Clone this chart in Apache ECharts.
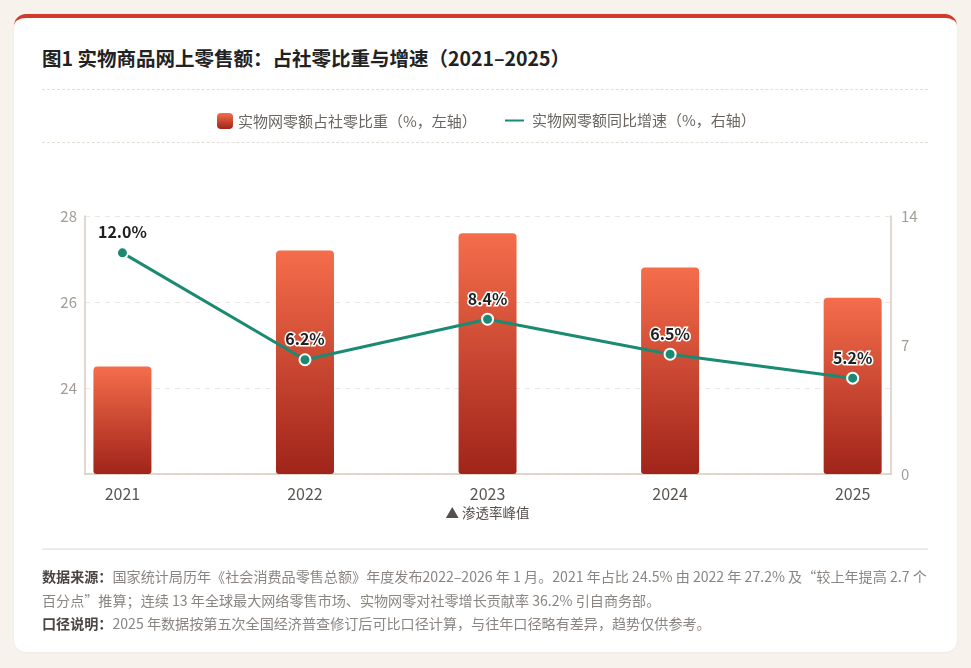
<!DOCTYPE html>
<html>
<head>
<meta charset="utf-8">
<script src="https://cdn.jsdelivr.net/npm/echarts@6/dist/echarts.min.js"></script>
<style>
  html, body { margin:0; padding:0; width:971px; height:668px; background:#f7f2eb; overflow:hidden;
    font-family:"Noto Sans CJK SC","Noto Sans",sans-serif; }
  #card { position:absolute; left:14px; top:14px; width:943px; height:638px; background:#fff;
    border-radius:12px; border-top:4px solid #d33a2b; box-sizing:border-box; box-shadow:0 1px 3px rgba(0,0,0,0.04); }
  #title { position:absolute; left:42px; top:43px; font-size:19.5px; font-weight:700; color:#222; white-space:nowrap; }
  .dot { position:absolute; left:42px; width:886px; border-top:1px dashed #e2ddd6; }
  #sep { position:absolute; left:42px; top:548px; width:886px; border-top:2px solid #efebe6; }
  #chart { position:absolute; left:0; top:0; width:971px; height:668px; }
  #foot { position:absolute; left:42px; top:565px; width:900px; font-size:14.1px; color:#8a8580; line-height:23.5px; white-space:nowrap; }
  #foot b { color:#4a4540; font-weight:700; }
</style>
</head>
<body>
<div id="card"></div>
<div id="title">图1 实物商品网上零售额：占社零比重与增速（2021–2025）</div>
<div class="dot" style="top:89px"></div>
<div class="dot" style="top:142px"></div>
<div id="chart"></div>
<div id="sep"></div>
<div id="foot">
<div><b>数据来源：</b>国家统计局历年《社会消费品零售总额》年度发布2022–2026 年 1 月。2021 年占比 24.5% 由 2022 年 27.2% 及“较上年提高 2.7 个</div>
<div>百分点”推算；连续 13 年全球最大网络零售市场、实物网零对社零增长贡献率 36.2% 引自商务部。</div>
<div><b>口径说明：</b>2025 年数据按第五次全国经济普查修订后可比口径计算，与往年口径略有差异，趋势仅供参考。</div>
</div>
<script>
const years = ['2021', '2022', '2023', '2024', '2025'];
const shareValues = [24.5, 27.2, 27.6, 26.8, 26.1];
const growthValues = [12.0, 6.2, 8.4, 6.5, 5.2];
const leftTicks = { min: 22, max: 28, interval: 2 };
const rightTicks = { min: 0, max: 14, interval: 7 };
const shareName = '实物网零额占社零比重（%，左轴）';
const growthName = '实物网零额同比增速（%，右轴）';
const peakYear = '2023';
const peakNote = '▲ 渗透率峰值';

const idx = years.map(function (_, i) { return i; });
const chart = echarts.init(document.getElementById('chart'));
const barGrad = new echarts.graphic.LinearGradient(0, 0, 0, 1, [
  { offset: 0, color: '#f56d4b' },
  { offset: 1, color: '#a0241a' }
]);
const teal = '#1b8a73';
const axisColor = '#d6cbbf';
chart.setOption({
  animation: false,
  textStyle: { fontFamily: '"Noto Sans CJK SC","Noto Sans",sans-serif' },
  legend: [
    {
      data: [shareName], left: 212, top: 108, itemWidth: 16, itemHeight: 16,
      icon: 'roundRect',
      textStyle: { fontSize: 15, color: '#6a6560' }
    },
    {
      data: [{ name: growthName, icon: 'roundRect' }], left: 498, top: 108, itemWidth: 21, itemHeight: 4,
      textStyle: { fontSize: 15, color: '#6a6560', padding: [0, 0, 0, 2] }
    }
  ],
  grid: { left: 85, right: 80, top: 216, bottom: 194 },
  xAxis: {
    type: 'value',
    min: -0.205,
    max: 4.21,
    axisLine: { show: true, onZero: false, lineStyle: { color: axisColor, width: 1.5 } },
    axisTick: { show: false },
    splitLine: { show: false },
    axisLabel: {
      customValues: idx,
      fontSize: 16, color: '#5a5550', margin: 10, lineHeight: 20,
      formatter: function (v) {
        const y = years[Math.round(v)];
        return y === peakYear ? y + '\n{p|' + peakNote + '}' : y;
      },
      rich: { p: { fontSize: 13.5, color: '#55504b', lineHeight: 18 } }
    }
  },
  yAxis: [
    {
      type: 'value', position: 'left', min: leftTicks.min, max: leftTicks.max, interval: leftTicks.interval,
      axisLine: { show: true, onZero: false, lineStyle: { color: axisColor, width: 1.5 } },
      axisTick: { show: false },
      axisLabel: { fontSize: 15, color: '#a39d97', margin: 8, showMinLabel: false },
      splitLine: { lineStyle: { color: '#ebe6df', type: [5, 5] } }
    },
    {
      type: 'value', position: 'right', min: rightTicks.min, max: rightTicks.max, interval: rightTicks.interval,
      axisLine: { show: true, onZero: false, lineStyle: { color: axisColor, width: 1.5 } },
      axisTick: { show: false },
      axisLabel: { fontSize: 15, color: '#a39d97', margin: 10 },
      splitLine: { show: false }
    }
  ],
  series: [
    {
      name: shareName, type: 'bar', yAxisIndex: 0,
      data: shareValues.map(function (v, i) { return [i, v]; }),
      barWidth: 58,
      itemStyle: { color: barGrad, borderRadius: [4, 4, 3, 3] }
    },
    {
      name: growthName, type: 'line', yAxisIndex: 1,
      data: growthValues.map(function (v, i) { return [i, v]; }),
      symbol: 'circle', symbolSize: 11,
      lineStyle: { color: teal, width: 3 },
      itemStyle: { color: teal, borderColor: '#fff', borderWidth: 2 },
      label: {
        show: true, position: 'top', distance: 6,
        formatter: function (p) { return p.value[1].toFixed(1) + '%'; },
        fontSize: 16, fontWeight: 'bold', color: '#1f1f1f',
        textBorderColor: '#fff', textBorderWidth: 3
      },
      z: 5
    }
  ]
});
</script>
</body>
</html>
